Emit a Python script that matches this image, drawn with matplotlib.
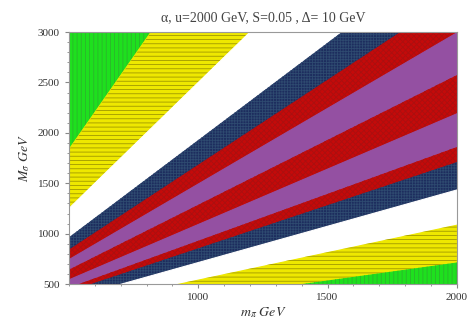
import numpy as np
import matplotlib
matplotlib.use("Agg")
import matplotlib.pyplot as plt
from matplotlib.ticker import MultipleLocator

# boundary slopes M_sigma / m_pi, from top-left band to bottom-right band
slopes = [1e6, 3.67, 2.5, 1.93, 1.685, 1.5, 1.287, 1.098, 0.93, 0.855, 0.72, 0.545, 0.357, 0.0]
band_names = ["green", "yellow", "white", "navy", "red", "purple", "red",
              "purple", "red", "navy", "white", "yellow", "green"]

x_range = [500, 2000]
y_range = [500, 3000]
x_ticks = [1000, 1500, 2000]
y_ticks = [500, 1000, 1500, 2000, 2500, 3000]

styles = {
    "green": dict(facecolor="#1ee01e", edgecolor="#2cb42c", hatch="||||"),
    "yellow": dict(facecolor="#eee800", edgecolor="#a09800", hatch="----"),
    "white": dict(facecolor="white", edgecolor="white", hatch=None),
    "navy": dict(facecolor="#1d2d5e", edgecolor="#2e4a70", hatch="++++++"),
    "red": dict(facecolor="#c40a0a", edgecolor="#aa1010", hatch="xxxxxx"),
    "purple": dict(facecolor="#9450a2", edgecolor="#9450a2", hatch=None),
}

plt.rcParams["hatch.linewidth"] = 0.6
plt.rcParams["mathtext.fontset"] = "stix"

fig = plt.figure(figsize=(4.69, 3.21), dpi=100)
ax = fig.add_axes([0.147, 0.115, 0.827, 0.785])

x = np.array(x_range, dtype=float)
for i, name in enumerate(band_names):
    st = styles[name]
    lo = slopes[i + 1] * x
    hi = np.minimum(slopes[i] * x, 1e7)
    # solid base, edges in the same colour so no seams show
    ax.fill_between(x, lo, hi, facecolor=st["facecolor"],
                    edgecolor=st["facecolor"], linewidth=0.8)
    if st["hatch"]:
        ax.fill_between(x, lo, hi, facecolor="none", edgecolor=st["edgecolor"],
                        hatch=st["hatch"], linewidth=0)

ax.set_xlim(*x_range)
ax.set_ylim(*y_range)
ax.set_xticks(x_ticks)
ax.set_yticks(y_ticks)
ax.xaxis.set_minor_locator(MultipleLocator(100))
ax.yaxis.set_minor_locator(MultipleLocator(100))
ax.tick_params(which="both", direction="out", color="#888888", labelsize=8,
               labelcolor="#333333")
ax.tick_params(which="major", length=3)
ax.tick_params(which="minor", length=1.5)
for lab in ax.get_xticklabels() + ax.get_yticklabels():
    lab.set_family("Liberation Serif")
for sp in ax.spines.values():
    sp.set_color("#999999")
    sp.set_linewidth(0.8)
    sp.set_zorder(5)

ax.set_title("α, u=2000 GeV, S=0.05 , Δ= 10 GeV", family="Liberation Serif",
             fontsize=10, color="#444444", pad=8)
ax.set_xlabel(r"$m_{\pi}\ GeV$", fontsize=10, color="#333333", labelpad=2)
ax.set_ylabel(r"$M_{\sigma}\ GeV$", fontsize=10, color="#333333", labelpad=4)

fig.savefig("out.png", dpi=100)
